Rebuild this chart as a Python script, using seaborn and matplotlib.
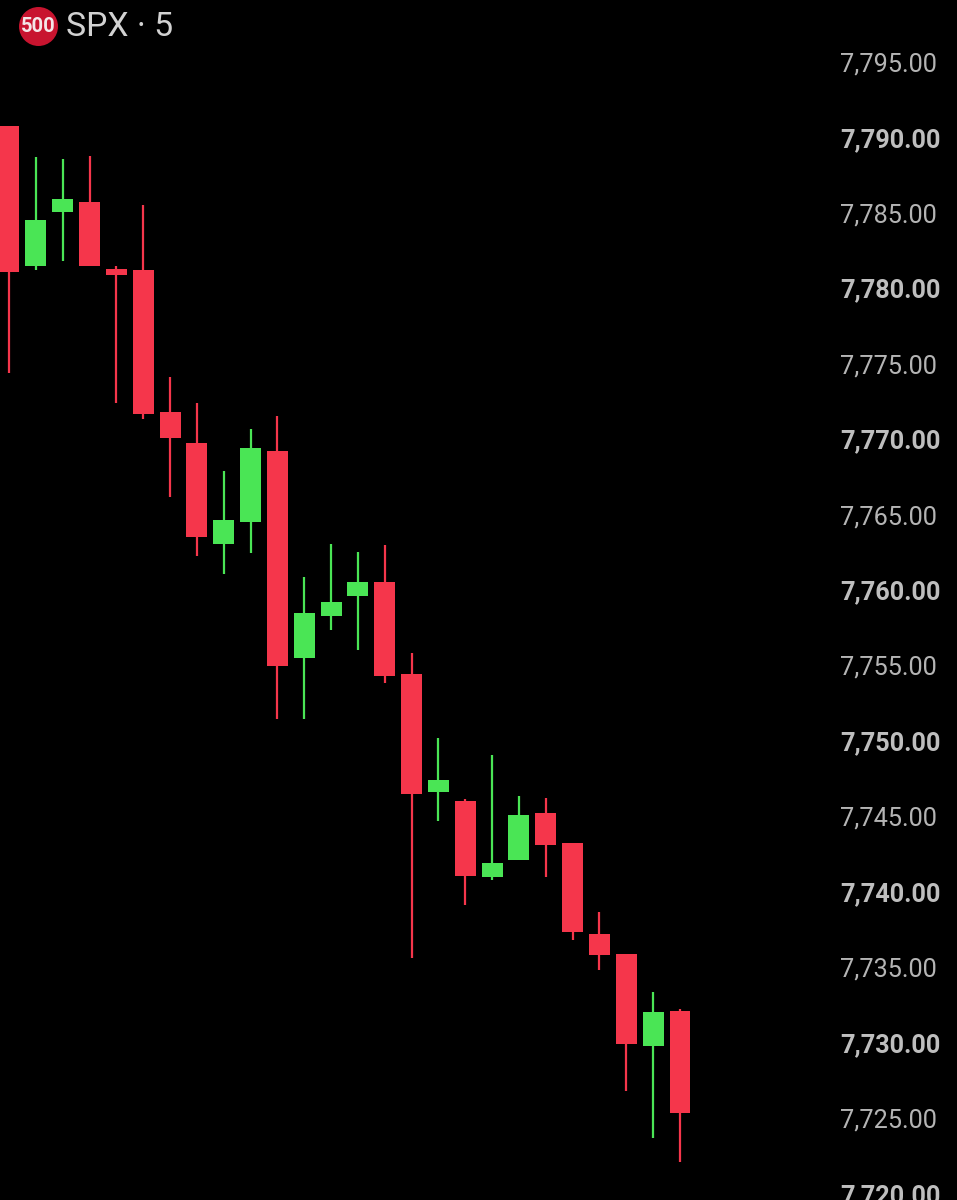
import matplotlib
matplotlib.use("Agg")
import matplotlib.pyplot as plt
import pandas as pd
import seaborn as sns
from matplotlib.patches import Ellipse
from matplotlib.transforms import ScaledTranslation

# 5 minute SPX candles
body_top = [
    7790.80, 7784.63, 7785.96, 7785.76, 7781.35, 7781.29, 7771.86, 7769.84, 7764.70,
    7769.47, 7769.29, 7758.54, 7759.26, 7760.59, 7760.59, 7754.53, 7747.51, 7746.08,
    7741.97, 7745.19, 7745.30, 7743.29, 7737.26, 7735.98, 7732.09, 7732.16,
]
body_bottom = [
    7781.12, 7781.55, 7785.10, 7781.55, 7780.97, 7771.74, 7770.17, 7763.57, 7763.11,
    7764.57, 7755.06, 7755.57, 7758.34, 7759.68, 7754.38, 7746.58, 7746.69, 7741.13,
    7741.04, 7742.17, 7743.18, 7737.40, 7735.87, 7730.01, 7729.84, 7725.44,
]
wick_high = [
    7790.80, 7788.77, 7788.64, 7788.84, 7781.55, 7785.56, 7774.17, 7772.49, 7767.97,
    7770.73, 7771.61, 7760.96, 7763.11, 7762.60, 7763.06, 7755.88, 7750.27, 7746.23,
    7749.15, 7746.45, 7746.32, 7743.33, 7738.74, 7735.98, 7733.42, 7732.33,
]
wick_low = [
    7774.46, 7781.29, 7781.88, 7781.55, 7772.49, 7771.43, 7766.26, 7762.35, 7761.16,
    7762.55, 7751.53, 7751.53, 7757.41, 7756.08, 7753.94, 7735.67, 7744.79, 7739.20,
    7740.84, 7742.17, 7741.04, 7736.89, 7734.88, 7726.88, 7723.78, 7722.15,
]
direction = [
    "down", "up", "up", "down", "down", "down", "down", "down", "up",
    "up", "down", "up", "up", "up", "down", "down", "up", "down",
    "up", "up", "down", "down", "down", "down", "up", "down",
]
tick_values = [7795, 7790, 7785, 7780, 7775, 7770, 7765, 7760, 7755, 7750, 7745, 7740,
               7735, 7730, 7725, 7720]

COLORS = {"down": "#F5364B", "up": "#4AE555"}

candles = pd.DataFrame({
    "candle": range(len(body_top)),
    "top": body_top,
    "bottom": body_bottom,
    "high": wick_high,
    "low": wick_low,
    "direction": direction,
})
candles["body"] = candles["top"] - candles["bottom"]

sns.set_theme(style="dark", rc={
    "figure.facecolor": "black",
    "axes.facecolor": "black",
    "axes.grid": False,
})
plt.rcParams["font.family"] = ["Roboto", "DejaVu Sans"]

fig = plt.figure(figsize=(9.57, 12), dpi=100)
ax = fig.add_axes([0, 0, 1, 1])

for name, group in candles.groupby("direction"):
    ax.vlines(group["candle"], group["low"], group["high"], color=COLORS[name], linewidth=1.6)
    sns.barplot(
        data=group,
        x="candle",
        y="body",
        bottom=group["bottom"].to_numpy(),
        native_scale=True,
        errorbar=None,
        color=COLORS[name],
        saturation=1,
        width=0.78,
        linewidth=0,
        ax=ax,
    )

# 26.84 px per candle, 15.09 px per point
ax.set_xlim(-9 / 26.84, (957 - 9) / 26.84)
ax.set_ylim(7790 - (1200 - 138.5) / 15.09, 7790 + 138.5 / 15.09)
ax.set_xlabel("")
ax.set_ylabel("")
ax.set_xticks([])
sns.despine(ax=ax, left=True, bottom=True)

ax.yaxis.tick_right()
ax.set_yticks(tick_values)
ax.set_yticklabels([f"{v:,.2f}" for v in tick_values])
ax.tick_params(axis="y", length=0, pad=-84, labelsize=18.2, labelcolor="#B4B4B4")
nudge_up = ScaledTranslation(0, 1.2 / 100, fig.dpi_scale_trans)
for label, value in zip(ax.get_yticklabels(), tick_values):
    label.set_transform(label.get_transform() + nudge_up)
    if value % 10 == 0:
        label.set_fontweight("bold")
        label.set_color("#BEBEBE")

# next label up, only its comma shows at the top edge
ax.text(840 / 957, 7800, "7,800.00", transform=ax.get_yaxis_transform(), ha="left", va="center",
        fontsize=18.2, color="#B4B4B4")

fig.add_artist(Ellipse((38.5 / 957, 1 - 26.5 / 1200), 39 / 957, 39 / 1200,
                       transform=fig.transFigure, facecolor="#C8142F", edgecolor="none"))
fig.text(38.5 / 957, 1 - 26.5 / 1200, "500", ha="center", va="center", fontsize=14.5,
         fontweight="bold", color="#F4E6E8")
fig.text(66 / 957, 1 - 27 / 1200, "SPX · 5", ha="left", va="center", fontsize=24.3, color="#D2D2D2")

fig.savefig("out.png", dpi=100, facecolor="black")
